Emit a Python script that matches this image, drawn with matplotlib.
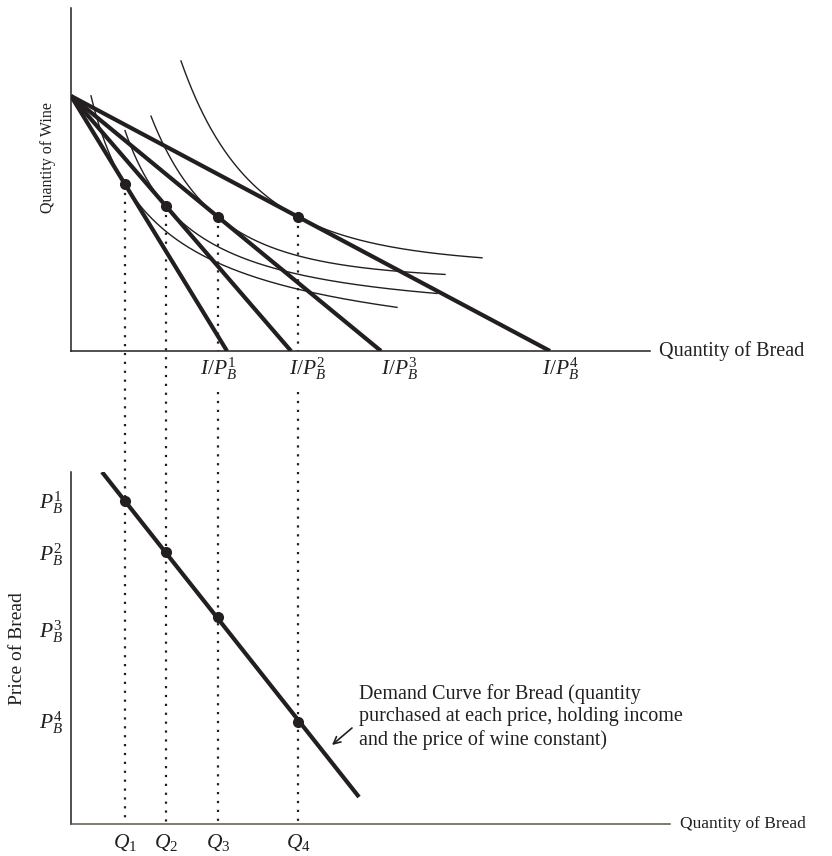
import numpy as np
import matplotlib
matplotlib.use("Agg")
import matplotlib.pyplot as plt

# ---------------- data ----------------
income = 255.0                          # wine-axis intercept of every budget line
bread_max = [156, 220, 310, 479]        # I / P_B^k  (bread-axis intercepts)
q_bread = [54, 95, 147, 227]            # optimal bread quantities Q1..Q4
budget_labels = [r"$I/P^{1}_{B}$", r"$I/P^{2}_{B}$", r"$I/P^{3}_{B}$", r"$I/P^{4}_{B}$"]
q_labels = [r"$Q_{1}$", r"$Q_{2}$", r"$Q_{3}$", r"$Q_{4}$"]

# indifference curves: points (bread, wine)
ic1_pts = [(20, 256), (229, 54), (326, 45)]
ic2_pts = [(54, 221), (66, 189), (229, 73), (366, 58)]
ic3_pts = [(80, 227), (109, 166), (229, 101), (374, 83)]
ic4_pts = [(110, 289), (166, 174), (411, 99)]

price_levels = [323, 272, 207, 102]     # P_B^1..P_B^4 (lower panel)
price_labels = [r"$P^{1}_{B}$", r"$P^{2}_{B}$", r"$P^{3}_{B}$", r"$P^{4}_{B}$"]
demand_q = [31, 288]                    # demand line end points
demand_p = [352, 27]

annot_text = ("Demand Curve for Bread (quantity\n"
              "purchased at each price, holding income\n"
              "and the price of wine constant)")

# ---------------- style ----------------
INK = "#231f20"
plt.rcParams["font.family"] = ["Liberation Serif", "DejaVu Serif"]
plt.rcParams["mathtext.fontset"] = "custom"
plt.rcParams["mathtext.rm"] = "Liberation Serif"
plt.rcParams["mathtext.it"] = "Liberation Serif:italic"
plt.rcParams["mathtext.bf"] = "Liberation Serif:bold"

W_PX, H_PX = 832, 856
fig = plt.figure(figsize=(W_PX / 100, H_PX / 100), dpi=100)


def add_axes_px(x0, y_top, x1, y_bottom):
    return fig.add_axes([x0 / W_PX, 1 - y_bottom / H_PX,
                         (x1 - x0) / W_PX, (y_bottom - y_top) / H_PX])


ax1 = add_axes_px(71, 8, 650, 351)
ax2 = add_axes_px(71, 472, 670, 824)
ax1.set_xlim(0, 579); ax1.set_ylim(0, 343)
ax2.set_xlim(0, 599); ax2.set_ylim(0, 352)

for ax in (ax1, ax2):
    ax.set_xticks([]); ax.set_yticks([])
    for sp in ("top", "right"):
        ax.spines[sp].set_visible(False)
    for sp in ("left", "bottom"):
        ax.spines[sp].set_color(INK)
        ax.spines[sp].set_linewidth(1.1)
    ax.patch.set_alpha(0)
ax2.spines["bottom"].set_color("#5e554c")


def fit_ic(Q, W, s, pts):
    px = np.array([p[0] for p in pts], float)
    py = np.array([p[1] for p in pts], float)
    wt = np.ones_like(px)
    wt[0] = 2.0
    wt[-1] = 4.0
    ps = np.linspace(0.15, 5.0, 195)
    best = (np.inf, None)
    for c in np.arange(px.min() - 500, px.min() - 0.5, 0.5):
        u = Q - c
        b = s * u ** (ps + 1) / ps
        a = W - b * u ** (-ps)
        y = a[:, None] + b[:, None] * (px[None, :] - c) ** (-ps[:, None])
        err = (wt[None, :] * (y - py[None, :]) ** 2).sum(axis=1)
        i = np.argmin(err)
        if err[i] < best[0]:
            best = (err[i], (a[i], b[i], c, ps[i]))
    a, b, c, p = best[1]
    xs = np.linspace(px.min(), px.max(), 400)
    return xs, a + b * (xs - c) ** (-p)


# ---------------- top panel ----------------
ic_sets = [ic1_pts, ic2_pts, ic3_pts, ic4_pts]
for xmax, Q, pts in zip(bread_max, q_bread, ic_sets):
    slope = income / xmax
    W = income - slope * Q
    xs, ys = fit_ic(Q, W, slope, pts)
    ax1.plot(xs, ys, color=INK, lw=1.0, zorder=2)

for xmax in bread_max:
    ax1.plot([0, xmax], [income, 0], color=INK, lw=3.0,
             solid_capstyle="butt", zorder=3)

label_shift = [-27, -2, 0, -8]
for xmax, lab, dx in zip(bread_max, budget_labels, label_shift):
    ax1.text(xmax + dx, -4, lab, ha="left", va="top", fontsize=15.5, color=INK)

wine_at_q = [income - income / m * q for m, q in zip(bread_max, q_bread)]
ax1.plot(q_bread, wine_at_q, "o", color=INK, ms=7, zorder=5)

# dotted connectors from the tangency points down to the lower axis
y_low = -473  # lower panel's bread axis, in top-panel units
gapped = [False, False, True, True]
for q, w, gap in zip(q_bread, wine_at_q, gapped):
    segs = [(w, 0), (-41, y_low)] if gap else [(w, y_low)]
    for y0, y1 in segs:
        ax1.plot([q, q], [y0, y1], color=INK, lw=1.6,
                 linestyle=(0, (1, 3.0)), clip_on=False, zorder=1)

ax1.text(588, 0, "Quantity of Bread", ha="left", va="center",
         fontsize=14.5, color=INK)
ax1.text(-23, 193, "Quantity of Wine", rotation=90, ha="center",
         va="center", fontsize=11.5, color=INK)

# ---------------- bottom panel ----------------
ax2.plot(demand_q, demand_p, color=INK, lw=3.0, solid_capstyle="butt", zorder=3)
ax2.plot(q_bread, price_levels, "o", color=INK, ms=7, zorder=5)

price_nudge = [-2, -3, -15, -1]
for p, lab, dy in zip(price_levels, price_labels, price_nudge):
    ax2.text(-8, p + dy, lab, ha="right", va="center", fontsize=15.5, color=INK)

for q, lab in zip(q_bread, q_labels):
    ax2.text(q, -8, lab, ha="center", va="top", fontsize=15.5, color=INK)

ax2.text(609, 0, "Quantity of Bread", ha="left", va="center",
         fontsize=12.5, color=INK)
ax2.text(-53, 175, "Price of Bread", rotation=90, ha="center",
         va="center", fontsize=14, color=INK)

ax2.text(288, 107, annot_text, ha="left", va="center", fontsize=14.5,
         color=INK, linespacing=1.25)
ax2.annotate("", xy=(261, 79), xytext=(281, 96),
             arrowprops=dict(arrowstyle="->,head_length=0.5,head_width=0.25",
                             color=INK, lw=1.2, shrinkA=0, shrinkB=0))

fig.savefig("out.png", dpi=100)
